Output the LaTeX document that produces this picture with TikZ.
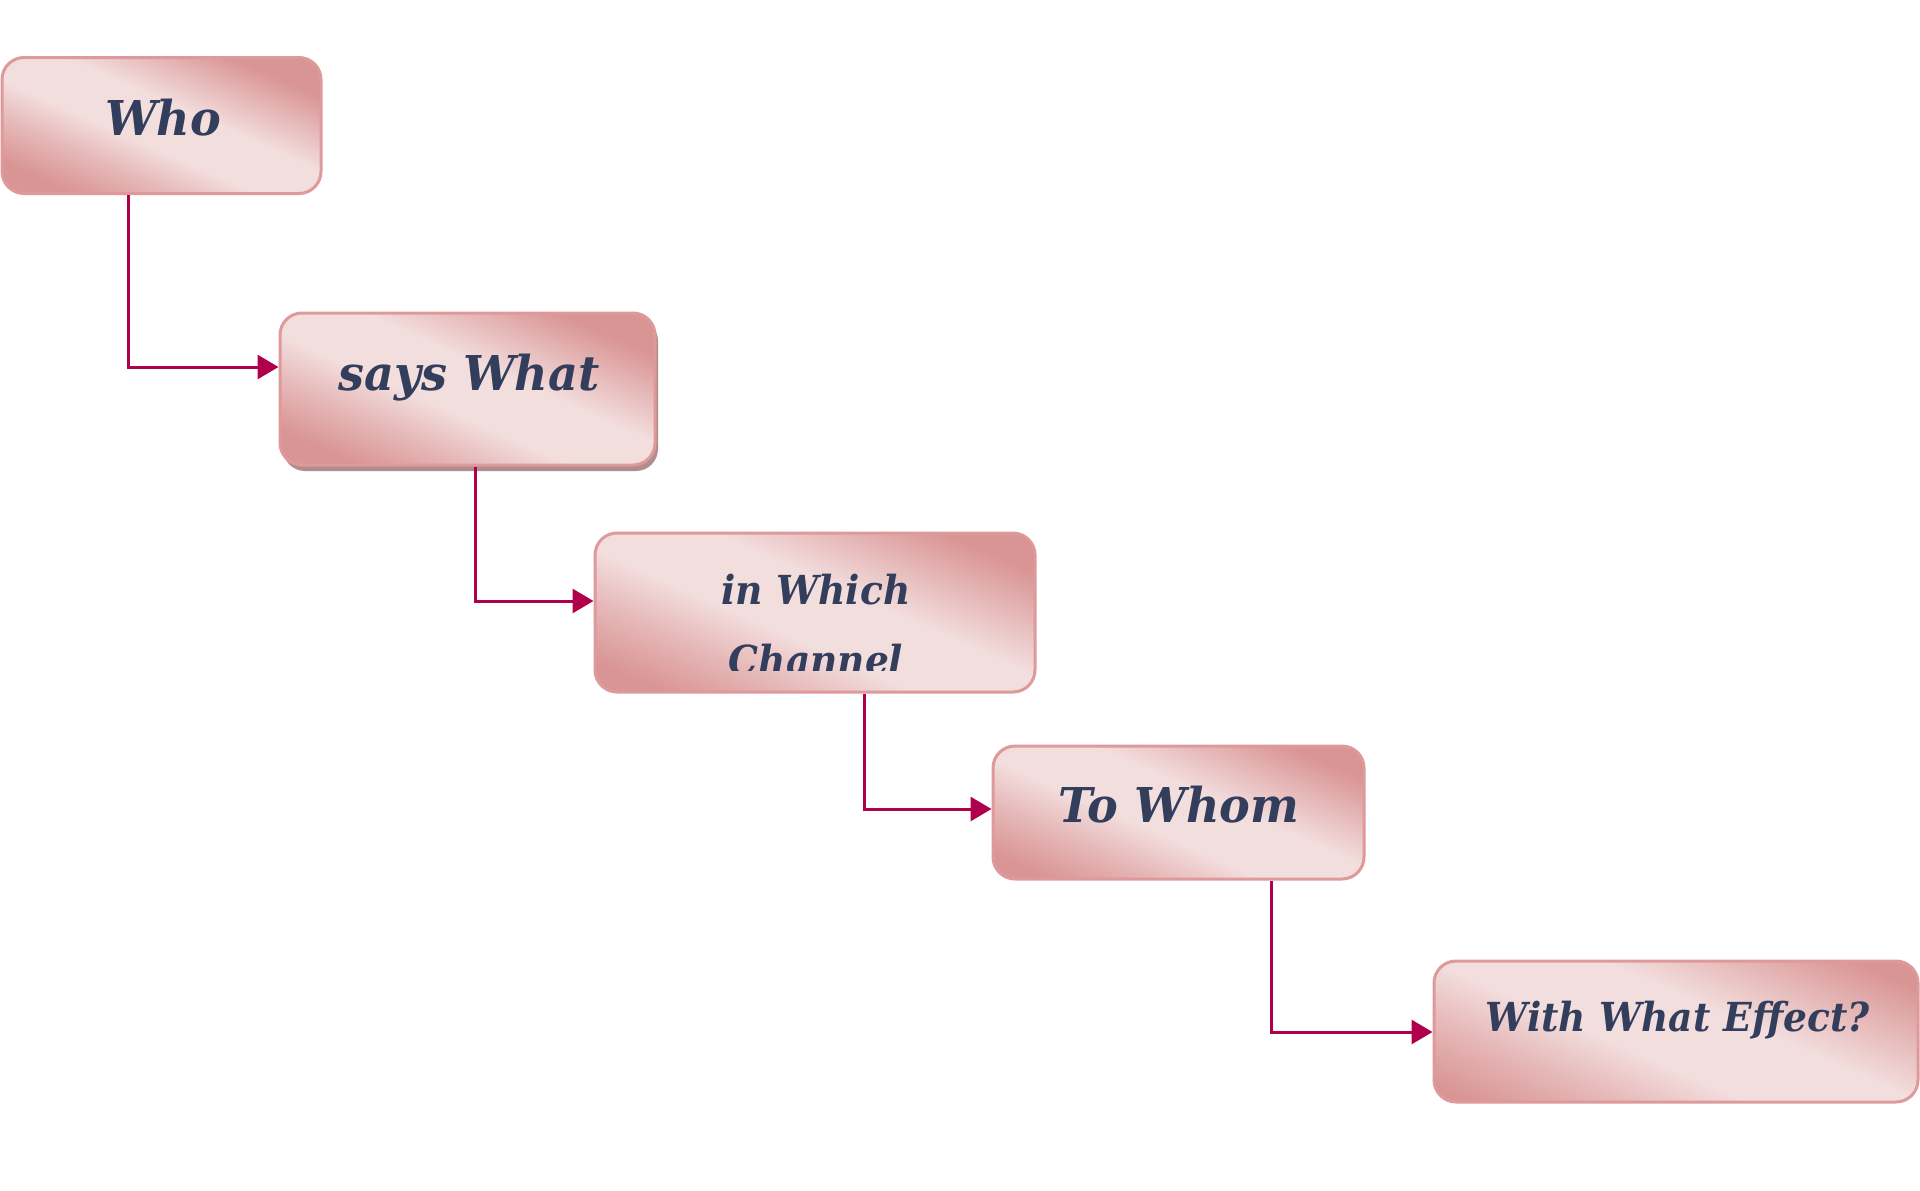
\documentclass[tikz,border=0pt]{standalone}
\usepackage{fontspec}
\setmainfont{DejaVu Serif}
\newfontfamily\bigfont{DejaVu Serif}[FakeStretch=0.96]
\newfontfamily\smallfont{DejaVu Serif}[FakeStretch=0.94]
\usetikzlibrary{arrows.meta,shadows}
\definecolor{pdk}{HTML}{D99594}
\definecolor{pmd}{HTML}{E6B8B8}
\definecolor{plt}{HTML}{F3DEDE}
\definecolor{pbd}{HTML}{DE9A9A}
\definecolor{ptx}{HTML}{323E5C}
\definecolor{parr}{HTML}{B0004B}
\definecolor{pshd}{HTML}{B08E8E}
\pgfdeclarehorizontalshading{pinkband}{100bp}{color(0bp)=(pdk); color(35bp)=(pdk); color(41bp)=(pmd); color(46.5bp)=(plt); color(53.5bp)=(plt); color(59bp)=(pmd); color(64bp)=(pdk); color(100bp)=(pdk)}
\begin{document}
\begin{tikzpicture}[x=1pt,y=-1pt,
  box/.style={draw=pbd, line width=3pt, rounded corners=22pt, inner sep=0pt,
    path picture={\shade[shading=pinkband, shading angle=66, sharp corners]
      ([shift={(-#1,-#1)}]path picture bounding box.center) rectangle
      ([shift={(#1,#1)}]path picture bounding box.center);}},
  lbl/.style={text=ptx, inner sep=0pt, font=\bigfont\bfseries\itshape\fontsize{48}{56}\selectfont},
  slbl/.style={text=ptx, inner sep=0pt, font=\smallfont\bfseries\itshape\fontsize{40}{48}\selectfont},
  conn/.style={draw=parr, line width=3pt, -{Triangle[length=21pt,width=24pt]}}]
\fill[white] (0,0) rectangle (1920,1191);
\useasboundingbox (0,0) rectangle (1920,1191);
% boxes
\node[box=163, minimum width=319pt, minimum height=136pt] (who) at (161.5,125.5) {};
\node[box=191, minimum width=375pt, minimum height=152pt, drop shadow={shadow xshift=3pt, shadow yshift=-6pt, fill=pshd, opacity=1}] (say) at (467.5,389) {};
\node[box=224, minimum width=440pt, minimum height=159pt] (chan) at (815,612.5) {};
\node[box=189, minimum width=371pt, minimum height=133pt] (whom) at (1178.5,812.5) {};
\node[box=246, minimum width=484pt, minimum height=141pt] (eff) at (1676,1031.5) {};
% texts
\node[lbl, anchor=base] (whot) at (163,135) {Who};
\node[lbl, anchor=base] (sayt) at (469,390.7) {says What};
\node[slbl, anchor=base] (chant1) at (816,604) {in Which};
\begin{scope}
\clip (595,533) rectangle (1035,670);
\node[slbl, anchor=base] (chant2) at (816,674) {Channel};
\end{scope}
\node[lbl, anchor=base] (whomt) at (1179,822.7) {To Whom};
\node[slbl, anchor=base] (efft) at (1677.6,1031.7) {With What Effect?};
% connectors
\coordinate (k1) at (128.6,367);
\coordinate (k2) at (475,601);
\coordinate (k3) at (864.5,809);
\coordinate (k4) at (1271,1032);
\draw[conn] (who.south -| k1) -- (k1) -- (say.west |- k1);
\draw[conn] (say.south -| k2) -- (k2) -- (chan.west |- k2);
\draw[conn] (chan.south -| k3) -- (k3) -- (whom.west |- k3);
\draw[conn] (whom.south -| k4) -- (k4) -- (eff.west |- k4);
\end{tikzpicture}
\end{document}
